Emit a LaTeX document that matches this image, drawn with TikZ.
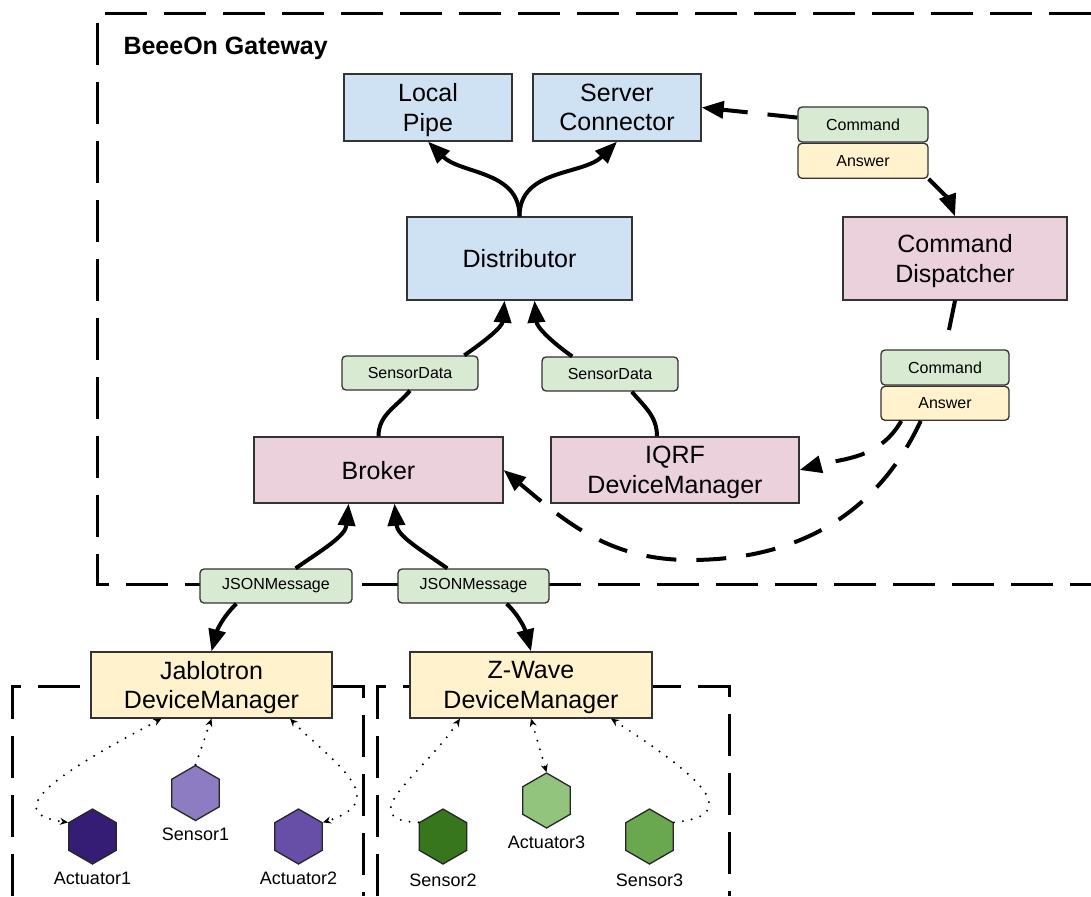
\documentclass[tikz,border=0pt]{standalone}
\usepackage{fontspec}
\setmainfont{Liberation Sans}
\usetikzlibrary{positioning,arrows.meta,shapes.geometric}

\definecolor{boxblue}{HTML}{CFE2F3}
\definecolor{boxpink}{HTML}{EAD1DC}
\definecolor{boxyellow}{HTML}{FFF2CC}
\definecolor{msggreen}{HTML}{D9EAD3}
\definecolor{purpleA}{HTML}{351C75}
\definecolor{purpleB}{HTML}{8E7CC3}
\definecolor{purpleC}{HTML}{674EA7}
\definecolor{greenA}{HTML}{38761D}
\definecolor{greenB}{HTML}{93C47D}
\definecolor{greenC}{HTML}{6AA84F}

\begin{document}
\begin{tikzpicture}[x=1pt,y=-1pt,
		block/.style={draw=black!80,line width=1.3pt,inner sep=0pt,align=center,
			text depth=0pt,font=\fontsize{25}{29.5}\selectfont},
		msg/.style={draw=black!80,line width=1.3pt,rounded corners=4pt,inner sep=0pt,
			minimum height=34pt,font=\fontsize{16}{19}\selectfont},
		hexa/.style={regular polygon,regular polygon sides=6,shape border rotate=30,
			draw=black!85,line width=1.3pt,minimum size=55pt,inner sep=0pt},
		hexname/.style={font=\fontsize{18}{21}\selectfont,inner sep=0pt},
		flow/.style={line width=4pt,-{Triangle[length=22pt,width=17pt]}},
		cmdflow/.style={flow,dash pattern=on 30pt off 20pt},
		radio/.style={line width=2.2pt,line cap=round,dash pattern=on 0pt off 9pt,
			>={Stealth[length=8pt,width=7pt]}},
		gate/.style={line width=3pt,dash pattern=on 42pt off 17pt}
	]
	\fill[white,use as bounding box] (0,0) rectangle (1091,896);

	% Gateway and device groups
	\draw[gate] (1091,14) -- (97,14) -- (97,584) -- (1091,584);
	\node[anchor=base west,font=\bfseries\fontsize{25}{30}\selectfont] (gwtitle) at (120,55) {BeeeOn Gateway};
	\draw[gate] (12,896) -- (12,686) -- (363,686) -- (363,896);
	\draw[gate] (377,896) -- (377,686) -- (729,686) -- (729,896);

	% Components
	\node[block,fill=boxblue,minimum width=168pt,minimum height=67pt] (pipe) at (428,107.5) {Local\\Pipe};
	\node[block,fill=boxblue,minimum width=168pt,minimum height=67pt] (scon) at (617,107.5) {Server\\Connector};
	\node[block,fill=boxblue,minimum width=225pt,minimum height=83pt] (dist) at (519.5,258.5) {Distributor};
	\node[block,fill=boxpink,minimum width=224pt,minimum height=83pt] (cdisp) at (955,258.5) {Command\\Dispatcher};
	\node[block,fill=boxpink,minimum width=249pt,minimum height=66pt] (broker) at (378.5,470) {Broker};
	\node[block,fill=boxpink,minimum width=248pt,minimum height=66pt] (iqrf) at (675,470) {IQRF\\DeviceManager};
	\node[block,fill=boxyellow,minimum width=241pt,minimum height=66pt] (jab) at (211.5,685) {Jablotron\\DeviceManager};
	\node[block,fill=boxyellow,minimum width=242pt,minimum height=66pt] (zw) at (531,685) {Z-Wave\\DeviceManager};

	% Messages
	\node[msg,fill=msggreen,minimum width=136pt] (sd1) at (410,373) {SensorData};
	\node[msg,fill=msggreen,minimum width=136pt] (sd2) at (610,374) {SensorData};
	\node[msg,fill=msggreen,minimum width=152pt] (json1) at (276,586) {JSONMessage};
	\node[msg,fill=msggreen,minimum width=151pt] (json2) at (473.5,586) {JSONMessage};
	\node[msg,fill=msggreen,minimum width=130pt,minimum height=35pt] (cmd1) at (863,124.5) {Command};
	\node[msg,fill=boxyellow,minimum width=130pt,minimum height=35pt,below=0pt of cmd1] (ans1) {Answer};
	\node[msg,fill=msggreen,minimum width=128pt,minimum height=35pt] (cmd2) at (945,367.5) {Command};
	\node[msg,fill=boxyellow,minimum width=128pt,below=0pt of cmd2] (ans2) {Answer};

	% Devices
	\node[hexa,fill=purpleA] (act1) at (92.5,836.5) {};
	\node[hexa,fill=purpleB] (sen1) at (195.5,793) {};
	\node[hexa,fill=purpleC] (act2) at (298.5,836.5) {};
	\node[hexa,fill=greenA] (sen2) at (443,836.5) {};
	\node[hexa,fill=greenB] (act3) at (546.5,800.5) {};
	\node[hexa,fill=greenC] (sen3) at (649.5,836.5) {};
	\node[hexname,below=7pt of act1] (act1name) {Actuator1};
	\node[hexname,below=6pt of sen1] (sen1name) {Sensor1};
	\node[hexname,below=7pt of act2] (act2name) {Actuator2};
	\node[hexname,below=9pt of sen2] (sen2name) {Sensor2};
	\node[hexname,below=7pt of act3] (act3name) {Actuator3};
	\node[hexname,below=9pt of sen3] (sen3name) {Sensor3};

	% Data flow
	\draw[flow] (dist.north) to[out=90,in=-45] (pipe.south);
	\draw[flow] (dist.north) to[out=90,in=-135] (scon.south);
	\draw[line width=4pt] (broker.north) to[out=90,in=-130] (sd1.south);
	\draw[flow] (sd1.18) to[out=35,in=-95] ([xshift=-15pt]dist.south);
	\draw[line width=4pt] ([xshift=-18pt]iqrf.north) to[out=90,in=-50] (sd2.-39);
	\draw[flow] (sd2.155) to[out=145,in=-85] ([xshift=15pt]dist.south);
	\draw[flow] (json1.42) to[out=35,in=-95] ([xshift=-30pt]broker.south);
	\draw[flow] (json2.146) to[out=145,in=-85] ([xshift=16pt]broker.south);
	\draw[flow] (json1.-156) to[out=-135,in=75] (jab.north);
	\draw[flow] (json2.-28) to[out=-45,in=105] (zw.north);

	% Commands and answers
	\draw[cmdflow] (cmd1.174) -- (scon.east);
	\draw[cmdflow] (ans1.south east) to[out=-45,in=110] (cdisp.north);
	\draw[cmdflow,-] (cdisp.south) -- (cmd2.north);
	\draw[cmdflow] (ans2.-158) to[out=-120,in=15] (iqrf.east);
	\coordinate (dip) at (690,560);
	\draw[cmdflow] (ans2.-144) to[out=-115,in=0] (dip) to[out=180,in=-40] (broker.east);

	% Radio links
	\draw[radio,<->] ([xshift=-50pt]jab.south) .. controls (80,762) and (-10,812) .. (act1.150);
	\draw[radio,->] (sen1.north) -- (jab.south);
	\draw[radio,<->] ([xshift=78.5pt]jab.south) .. controls (330,760) and (395,800) .. (act2.30);
	\draw[radio,->] (sen2.150) .. controls (350,820) and (425,772) .. ([xshift=-71pt]zw.south);
	\draw[radio,<->] (zw.south) -- (act3.north);
	\draw[radio,->] (sen3.30) .. controls (750,815) and (690,770) .. ([xshift=80pt]zw.south);
\end{tikzpicture}
\end{document}
